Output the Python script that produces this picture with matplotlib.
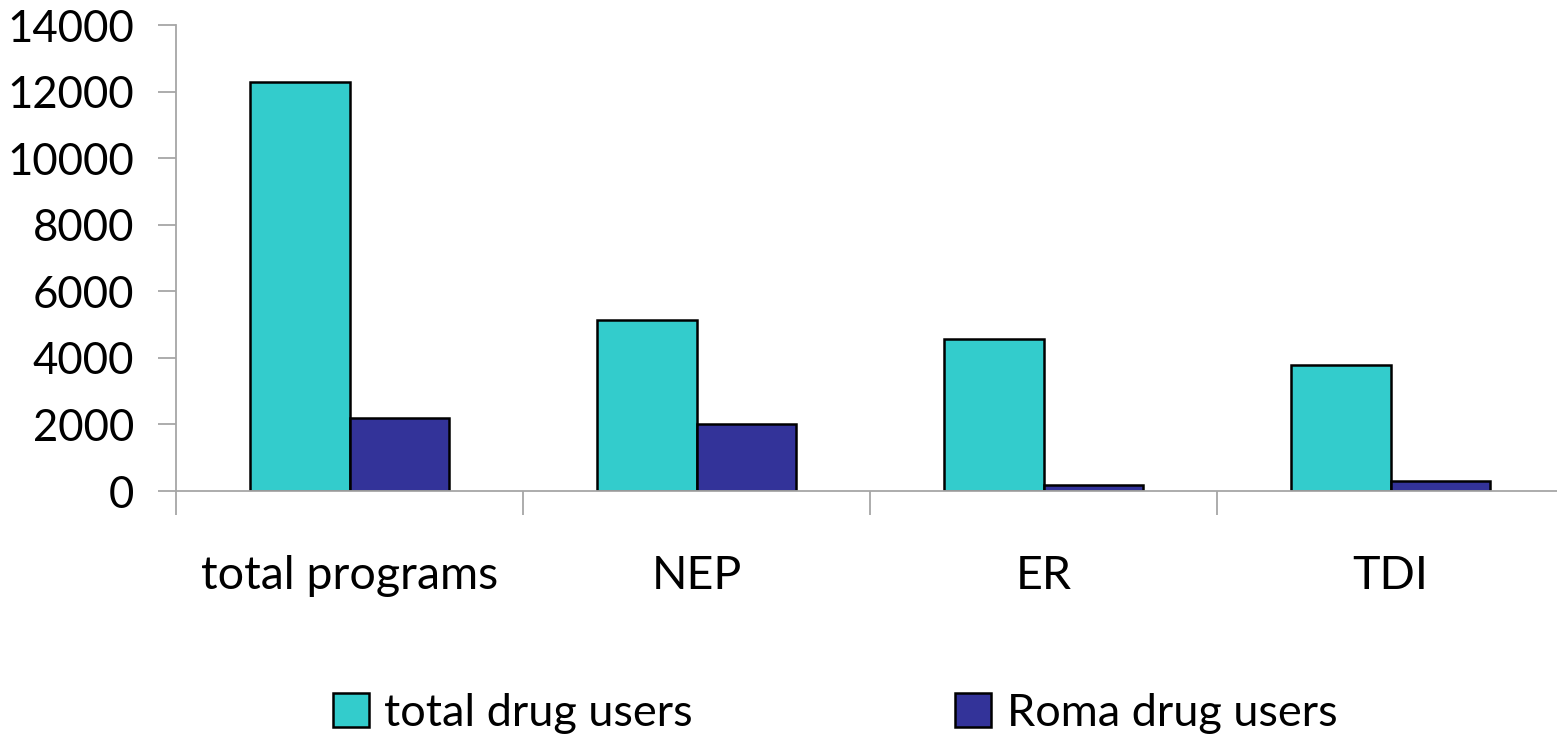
import numpy as np
import matplotlib
matplotlib.use("Agg")
import matplotlib.pyplot as plt
from matplotlib.patches import Patch

# data
categories = ["total programs", "NEP", "ER", "TDI"]
total_users = [12300, 5140, 4570, 3790]
roma_users = [2200, 2010, 190, 310]
series_names = ["total drug users", "Roma drug users"]
yticks = [0, 2000, 4000, 6000, 8000, 10000, 12000, 14000]

# colors
TEAL = "#33cccc"
NAVY = "#333399"
AXIS_GRAY = "#a6a6a6"

plt.rcParams["font.family"] = ["Lato", "DejaVu Sans"]
plt.rcParams["font.size"] = 32

fig = plt.figure(figsize=(15.57, 7.38), dpi=100)
ax = fig.add_axes([176 / 1557, 247 / 738, 1388 / 1557, 466 / 738])

x = np.arange(len(categories))
w = 0.288
ax.bar(x - w / 2, total_users, width=w, color=TEAL, edgecolor="black", linewidth=1.8)
ax.bar(x + w / 2, roma_users, width=w, color=NAVY, edgecolor="black", linewidth=1.8)

ax.set_xlim(-0.5, len(categories) - 0.5)
ax.set_ylim(0, 14000)
ax.set_yticks(yticks)
ax.set_yticklabels([str(v) for v in yticks], fontsize=31.5)

# category labels at centers, tick marks at boundaries
ax.set_xticks(x)
ax.set_xticklabels(categories, fontsize=33.5)
ax.set_xticks(np.arange(len(categories) + 1) - 0.5, minor=True)
ax.tick_params(axis="x", which="major", length=0, pad=46)
ax.tick_params(axis="x", which="minor", length=17, color=AXIS_GRAY, width=1.3)
ax.tick_params(axis="y", length=13, color=AXIS_GRAY, width=1.3, pad=17)

for s in ["top", "right"]:
    ax.spines[s].set_visible(False)
for s in ["left", "bottom"]:
    ax.spines[s].set_color(AXIS_GRAY)
    ax.spines[s].set_linewidth(1.3)
ax.spines["left"].set_bounds(0, 14000)

handles = [Patch(facecolor=TEAL, edgecolor="black", linewidth=1.8),
           Patch(facecolor=NAVY, edgecolor="black", linewidth=1.8)]
fig.legend(handles, series_names, loc="center", bbox_to_anchor=(835 / 1557, 1 - 713 / 738),
           ncol=2, frameon=False, handlelength=0.8, handleheight=0.8,
           handletextpad=0.35, columnspacing=5.8, fontsize=32.5)

fig.savefig("out.png", dpi=100)
